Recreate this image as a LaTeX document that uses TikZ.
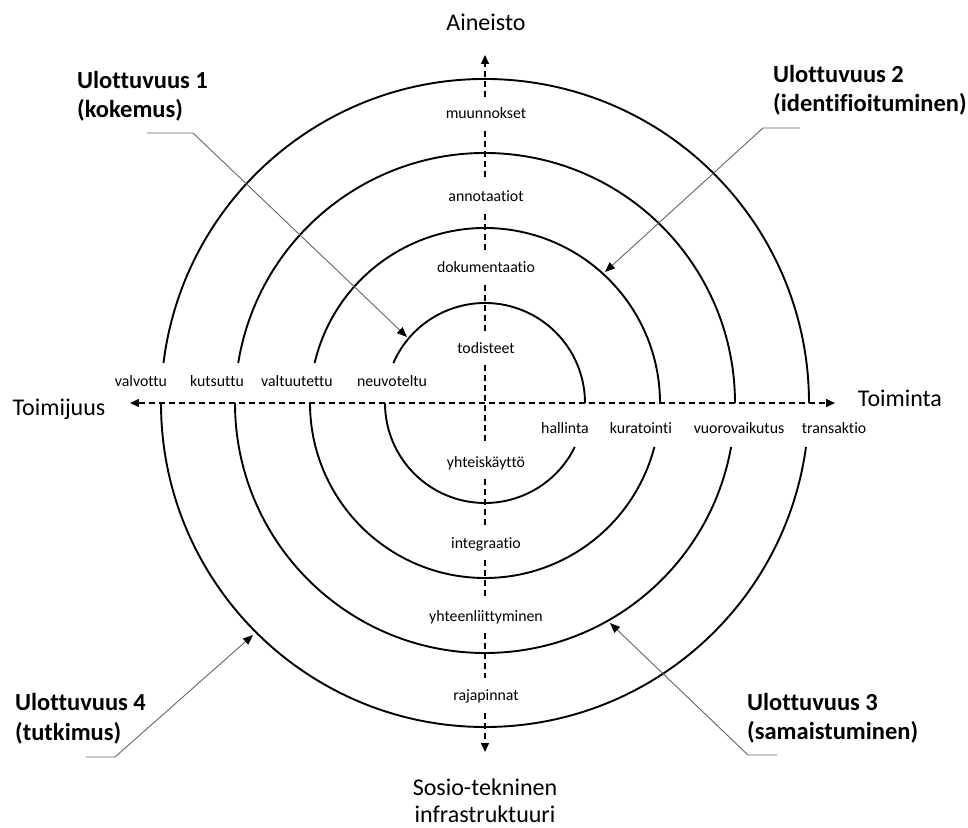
\documentclass[tikz,border=0pt]{standalone}
\usepackage{fontspec}
\setmainfont{Carlito}[Ligatures=NoCommon]
\usetikzlibrary{arrows.meta,calc}
\begin{document}
\begin{tikzpicture}[x=1pt,y=1pt,
  ring/.style={line width=1.9pt},
  axisline/.style={line width=1.5pt, dash pattern=on 6pt off 4pt},
  axtip/.style={-{Triangle[length=9pt,width=8pt]}},
  lbl/.style={font=\fontsize{15.8}{19}\selectfont, inner sep=0pt, anchor=base},
  ttl/.style={font=\fontsize{24}{29}\selectfont, inner sep=0pt, anchor=base},
  dimtxt/.style={font=\bfseries\fontsize{24.5}{29}\selectfont, inner sep=0pt, anchor=base west},
  leader/.style={line width=0.9pt, draw=black!60, -{Triangle[length=10pt,width=8pt,color=black]}}
]
\useasboundingbox (-485,-424) rectangle (483,403);
\fill[white] (-485,-424) rectangle (483,403);

% rings (each with a gap left above the axis and right below the axis)
\foreach \r in {100,175,250,324}{
  \draw[ring] ({180-asin(40/\r)}:\r) arc[start angle={180-asin(40/\r)}, end angle=0, radius=\r];
  \draw[ring] (180:\r) arc[start angle=180, end angle={360-asin(44/\r)}, radius=\r];
}

% axis end points
\coordinate (tipL) at (-355,0);
\coordinate (tipR) at (350,0);
\coordinate (tipT) at (0,348);
\coordinate (tipB) at (0,-349);

% horizontal axis
\draw[axisline,{Triangle[length=9pt,width=8pt]}-{Triangle[length=9pt,width=8pt]}] (tipL) -- (tipR);

% vertical labels
\node[lbl] (muunnokset) at (1,284) {muunnokset};
\node[lbl] (annotaatiot) at (1,201) {annotaatiot};
\node[lbl] (dokumentaatio) at (1,130) {dokumentaatio};
\node[lbl] (todisteet) at (1,50) {todisteet};
\node[lbl] (yhteiskaytto) at (1,-64) {yhteiskäyttö};
\node[lbl] (integraatio) at (1,-145) {integraatio};
\node[lbl] (yhteenliittyminen) at (1,-218) {yhteenliittyminen};
\node[lbl] (rajapinnat) at (1,-297) {rajapinnat};

% vertical axis segments
\draw[axisline,axtip] ($(muunnokset.base)+(-1,22)$) -- (tipT);
\foreach \a/\b in {muunnokset/annotaatiot, annotaatiot/dokumentaatio, dokumentaatio/todisteet, todisteet/yhteiskaytto, yhteiskaytto/integraatio, integraatio/yhteenliittyminen, yhteenliittyminen/rajapinnat}
  \draw[axisline] ($(\a.base)+(-1,-12)$) -- ($(\b.base)+(-1,22)$);
\draw[axisline,axtip] ($(rajapinnat.base)+(-1,-13)$) -- (tipB);

% left labels
\node[lbl] (valvottu) at (-344,17) {valvottu};
\node[lbl] (kutsuttu) at (-268,17) {kutsuttu};
\node[lbl] (valtuutettu) at (-188,17) {valtuutettu};
\node[lbl] (neuvoteltu) at (-93,17) {neuvoteltu};

% right labels
\node[lbl] (hallinta) at (80,-30) {hallinta};
\node[lbl] (kuratointi) at (156,-30) {kuratointi};
\node[lbl] (vuorovaikutus) at (254,-30) {vuorovaikutus};
\node[lbl] (transaktio) at (349,-30) {transaktio};

% titles
\node[ttl] (aineisto) at (1,372) {Aineisto};
\node[ttl] (toimijuus) at (-426,-12) {Toimijuus};
\node[ttl] (toiminta) at (415,-3) {Toiminta};
\node[ttl] (sosio) at (0,-392) {Sosio-tekninen};
\node[ttl] (infra) at (0,-419) {infrastruktuuri};

% callouts
\node[dimtxt] (u1a) at (-408,314) {Ulottuvuus 1};
\node[dimtxt] (u1b) at (-408,285) {(kokemus)};
\coordinate (u1s) at (-338,270);
\coordinate (u1k) at (-292,270);
\coordinate (u1t) at (-78,66);
\draw[leader] (u1s) -- (u1k) -- (u1t);

\node[dimtxt] (u2a) at (288,320) {Ulottuvuus 2};
\node[dimtxt] (u2b) at (288,291) {(identifioituminen)};
\coordinate (u2s) at (315,275);
\coordinate (u2k) at (278,275);
\coordinate (u2t) at (120,131);
\draw[leader] (u2s) -- (u2k) -- (u2t);

\node[dimtxt] (u3a) at (262,-307) {Ulottuvuus 3};
\node[dimtxt] (u3b) at (262,-336) {(samaistuminen)};
\coordinate (u3s) at (292,-352);
\coordinate (u3k) at (263,-352);
\coordinate (u3t) at (125,-220);
\draw[leader] (u3s) -- (u3k) -- (u3t);

\node[dimtxt] (u4a) at (-470,-307) {Ulottuvuus 4};
\node[dimtxt] (u4b) at (-470,-337) {(tutkimus)};
\coordinate (u4s) at (-399,-354);
\coordinate (u4k) at (-370,-354);
\coordinate (u4t) at (-232,-232);
\draw[leader] (u4s) -- (u4k) -- (u4t);
\end{tikzpicture}
\end{document}
